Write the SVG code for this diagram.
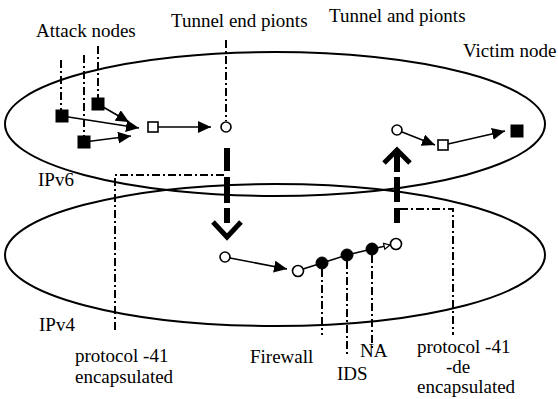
<svg xmlns="http://www.w3.org/2000/svg" width="558" height="399" viewBox="0 0 558 399">
<style>
text{font-family:"Liberation Serif","Times New Roman",serif;font-size:19px;fill:#000}
.ell{fill:none;stroke:#000;stroke-width:2}
.dd{fill:none;stroke:#000;stroke-width:2;stroke-dasharray:8 3 2 3}
.ln{fill:none;stroke:#000;stroke-width:1.6}
.thick{fill:none;stroke:#000;stroke-width:6}
.chev{fill:none;stroke:#000;stroke-width:5;stroke-linejoin:miter}
.fsq{fill:#000;stroke:#000;stroke-width:1}
.osq{fill:#fff;stroke:#000;stroke-width:1.6}
.oc{fill:#fff;stroke:#000;stroke-width:1.6}
.fc{fill:#000;stroke:#000;stroke-width:1}
</style>
<defs>
<marker id="ah" markerUnits="userSpaceOnUse" markerWidth="14" markerHeight="12" refX="13" refY="6" orient="auto">
<path d="M0,0 L13,6 L0,12 z" fill="#000"/>
</marker>
<marker id="oh" markerUnits="userSpaceOnUse" markerWidth="9" markerHeight="9" refX="7" refY="4" orient="auto">
<path d="M1,1 L7,4 L1,7 z" fill="#fff" stroke="#000" stroke-width="1.2"/>
</marker>
</defs>

<g id="ipv6-network"><ellipse class="ell" cx="275" cy="124" rx="270" ry="72"/></g>
<g id="ipv4-network"><ellipse class="ell" cx="275" cy="255" rx="270" ry="71"/></g>

<g id="connectors">
<line class="ln" x1="62" y1="116" x2="139" y2="128" marker-end="url(#ah)"/>
<line class="ln" x1="98" y1="104" x2="129" y2="122" marker-end="url(#ah)"/>
<line class="ln" x1="84" y1="142" x2="131" y2="136" marker-end="url(#ah)"/>
<line class="ln" x1="158" y1="127" x2="211" y2="127" marker-end="url(#ah)"/>
<line class="ln" x1="402" y1="132" x2="435" y2="145" marker-end="url(#ah)"/>
<line class="ln" x1="448" y1="144" x2="505" y2="131" marker-end="url(#ah)"/>
<line class="ln" x1="230" y1="258" x2="287" y2="269" marker-end="url(#ah)"/>
<polyline class="ln" points="303,269 322,263 347,255 372,249"/>
<line class="ln" x1="372" y1="249" x2="390" y2="245" marker-end="url(#oh)"/>
<!-- thick tunnel arrows -->
<line class="thick" x1="227" y1="148" x2="227" y2="171"/>
<line class="thick" x1="227" y1="177" x2="227" y2="203"/>
<line class="thick" x1="227" y1="208" x2="227" y2="223"/>
<polyline class="chev" points="213,222 227,237 241,222"/>
<line class="thick" x1="397" y1="151" x2="397" y2="172"/>
<line class="thick" x1="397" y1="177" x2="397" y2="202"/>
<line class="thick" x1="397" y1="208" x2="397" y2="223"/>
<polyline class="chev" points="384,163 397,150 410,163"/>
<!-- dash-dot leaders -->
<line class="dd" x1="61" y1="60" x2="61" y2="110"/>
<line class="dd" x1="84" y1="55" x2="84" y2="136"/>
<line class="dd" x1="98" y1="46" x2="98" y2="98"/>
<line class="dd" x1="226" y1="40" x2="226" y2="121"/>
<polyline class="dd" points="224,175 115,175 115,332"/>
<polyline class="dd" points="400,209 453,209 453,335"/>
<line class="dd" x1="322" y1="269" x2="322" y2="335"/>
<line class="dd" x1="347" y1="261" x2="347" y2="355"/>
<line class="dd" x1="372" y1="255" x2="372" y2="348"/>
</g>

<g id="attack-node-1"><rect class="fsq" x="56" y="110" width="12" height="12"/></g>
<g id="attack-node-2"><rect class="fsq" x="92" y="98" width="12" height="12"/></g>
<g id="attack-node-3"><rect class="fsq" x="78" y="136" width="12" height="12"/></g>
<g id="router-v6-left"><rect class="osq" x="148" y="122" width="10" height="10"/></g>
<g id="tunnel-end-left"><circle class="oc" cx="226" cy="127" r="5"/></g>
<g id="tunnel-end-right"><circle class="oc" cx="397" cy="130" r="5"/></g>
<g id="router-v6-right"><rect class="osq" x="438" y="140" width="10" height="10"/></g>
<g id="victim-node"><rect class="fsq" x="511" y="125" width="12" height="12"/></g>
<g id="v4-entry"><circle class="oc" cx="225" cy="257" r="5"/></g>
<g id="v4-router"><circle class="oc" cx="298" cy="271" r="5.5"/></g>
<g id="firewall"><circle class="fc" cx="322" cy="263" r="6"/></g>
<g id="ids"><circle class="fc" cx="347" cy="255" r="6"/></g>
<g id="na"><circle class="fc" cx="372" cy="249" r="6"/></g>
<g id="v4-exit"><circle class="oc" cx="396" cy="244" r="5.5"/></g>

<g id="labels">
<text x="36" y="37">Attack nodes</text>
<text x="171" y="27">Tunnel end pionts</text>
<text x="329" y="22">Tunnel and pionts</text>
<text x="463" y="57">Victim node</text>
<text x="38" y="186">IPv6</text>
<text x="39" y="331">IPv4</text>
<text x="75" y="362">protocol -41</text>
<text x="75" y="383">encapsulated</text>
<text x="250" y="363">Firewall</text>
<text x="337" y="380">IDS</text>
<text x="360" y="357">NA</text>
<text x="417" y="353">protocol -41</text>
<text x="446" y="373">-de</text>
<text x="417" y="393">encapsulated</text>
</g>
</svg>
